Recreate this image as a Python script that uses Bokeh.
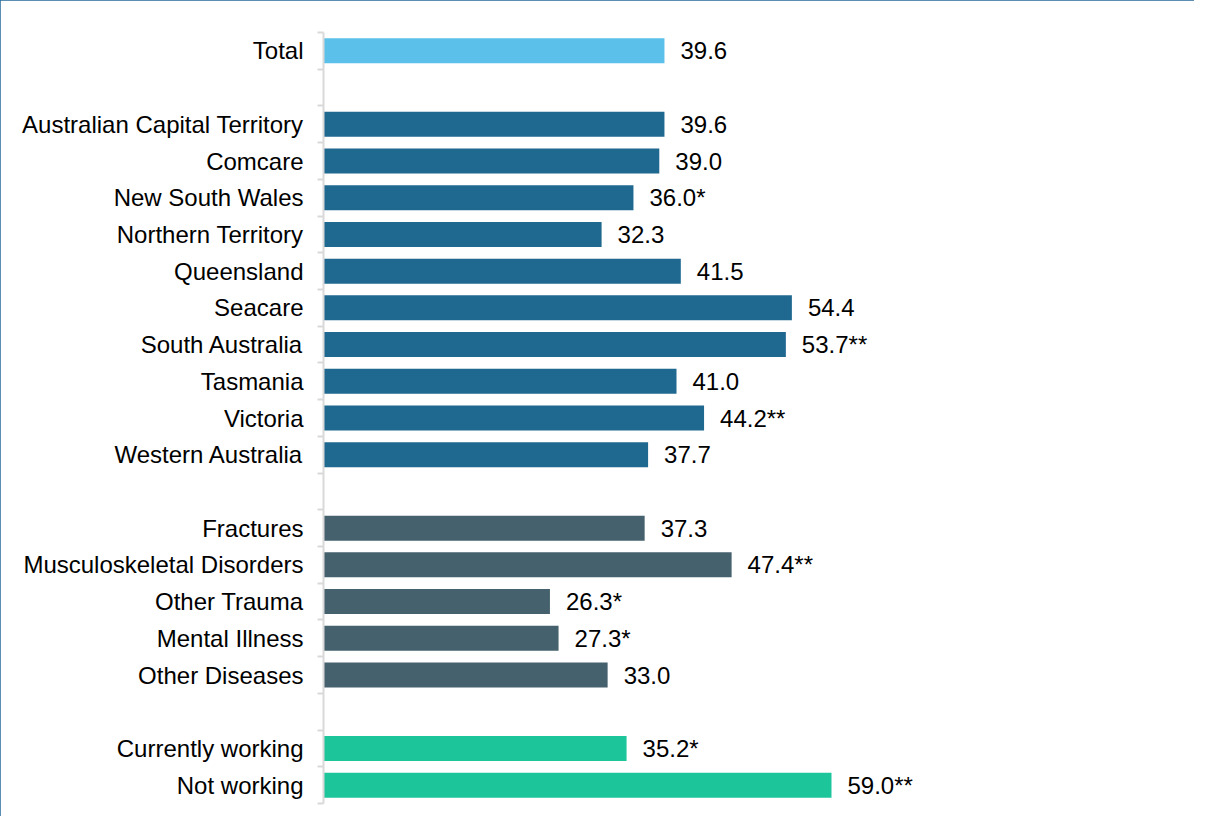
from bokeh.plotting import figure
from bokeh.models import ColumnDataSource, Range1d, FixedTicker
from bokeh.core.properties import value
from bokeh.embed import file_html
from bokeh.resources import INLINE

# ---- data ----
categories = ["Total", "",
              "Australian Capital Territory", "Comcare", "New South Wales",
              "Northern Territory", "Queensland", "Seacare", "South Australia",
              "Tasmania", "Victoria", "Western Australia", "",
              "Fractures", "Musculoskeletal Disorders", "Other Trauma",
              "Mental Illness", "Other Diseases", "",
              "Currently working", "Not working"]
values = [39.6, None,
          39.6, 39.0, 36.0, 32.3, 41.5, 54.4, 53.7, 41.0, 44.2, 37.7, None,
          37.3, 47.4, 26.3, 27.3, 33.0, None,
          35.2, 59.0]
markers = ["", "",
           "", "", "*", "", "", "", "**", "", "**", "", "",
           "", "**", "*", "*", "", "",
           "*", "**"]
groups = ["total", "",
          "jur", "jur", "jur", "jur", "jur", "jur", "jur", "jur", "jur", "jur", "",
          "inj", "inj", "inj", "inj", "inj", "",
          "work", "work"]
group_colors = {"total": "#5BC0EA", "jur": "#1F6990", "inj": "#46616E", "work": "#1DC59B"}

FONT = "Liberation Sans"

ys, xs, cols, labs = [], [], [], []
for i, (v, m, g) in enumerate(zip(values, markers, groups)):
    if v is None:
        continue
    ys.append(i)
    xs.append(v)
    cols.append(group_colors[g])
    labs.append(f"{v:.1f}{m}")
src = ColumnDataSource(dict(y=ys, x=xs, color=cols, label=labs))

n = len(categories)
W, H = 1194, 816
left, top, bottom_edge = 323, 32, 803
frame_w = 860
px_per_unit = 8.61

p = figure(width=W, height=H, output_backend="svg", toolbar_location=None,
           x_range=Range1d(0, frame_w / px_per_unit),
           y_range=Range1d(n - 0.5, -0.5),
           min_border_left=left, min_border_right=W - left - frame_w,
           min_border_top=top, min_border_bottom=H - bottom_edge)
p.styles = {"outline": "2px solid #23699A", "outline-offset": "-2px"}
p.outline_line_color = None
p.xgrid.visible = False
p.ygrid.visible = False
p.xaxis.visible = False
p.background_fill_color = "white"
p.border_fill_color = "white"

p.hbar(y="y", right="x", left=0, height=0.68, color="color", line_color=None, source=src)
p.text(x="x", y="y", text="label", source=src, x_offset=16, text_baseline="middle",
       text_align="left", text_font=value(FONT), text_font_size="24px", text_color="#000000")

yaxis = p.yaxis[0]
yaxis.ticker = FixedTicker(ticks=[i for i, c in enumerate(categories) if c],
                           minor_ticks=[i - 0.5 for i in range(n + 1)])
yaxis.major_label_overrides = {i: c for i, c in enumerate(categories) if c}
yaxis.major_tick_out = 0
yaxis.major_tick_in = 0
yaxis.minor_tick_out = 6
yaxis.minor_tick_in = 0
yaxis.minor_tick_line_color = "#D9D9D9"
yaxis.minor_tick_line_width = 2
yaxis.axis_line_color = "#D9D9D9"
yaxis.axis_line_width = 2
yaxis.major_label_standoff = 14
yaxis.major_label_text_font = FONT
yaxis.major_label_text_font_size = "24px"
yaxis.major_label_text_color = "#000000"

open("out.html", "w").write(file_html(p, INLINE))
